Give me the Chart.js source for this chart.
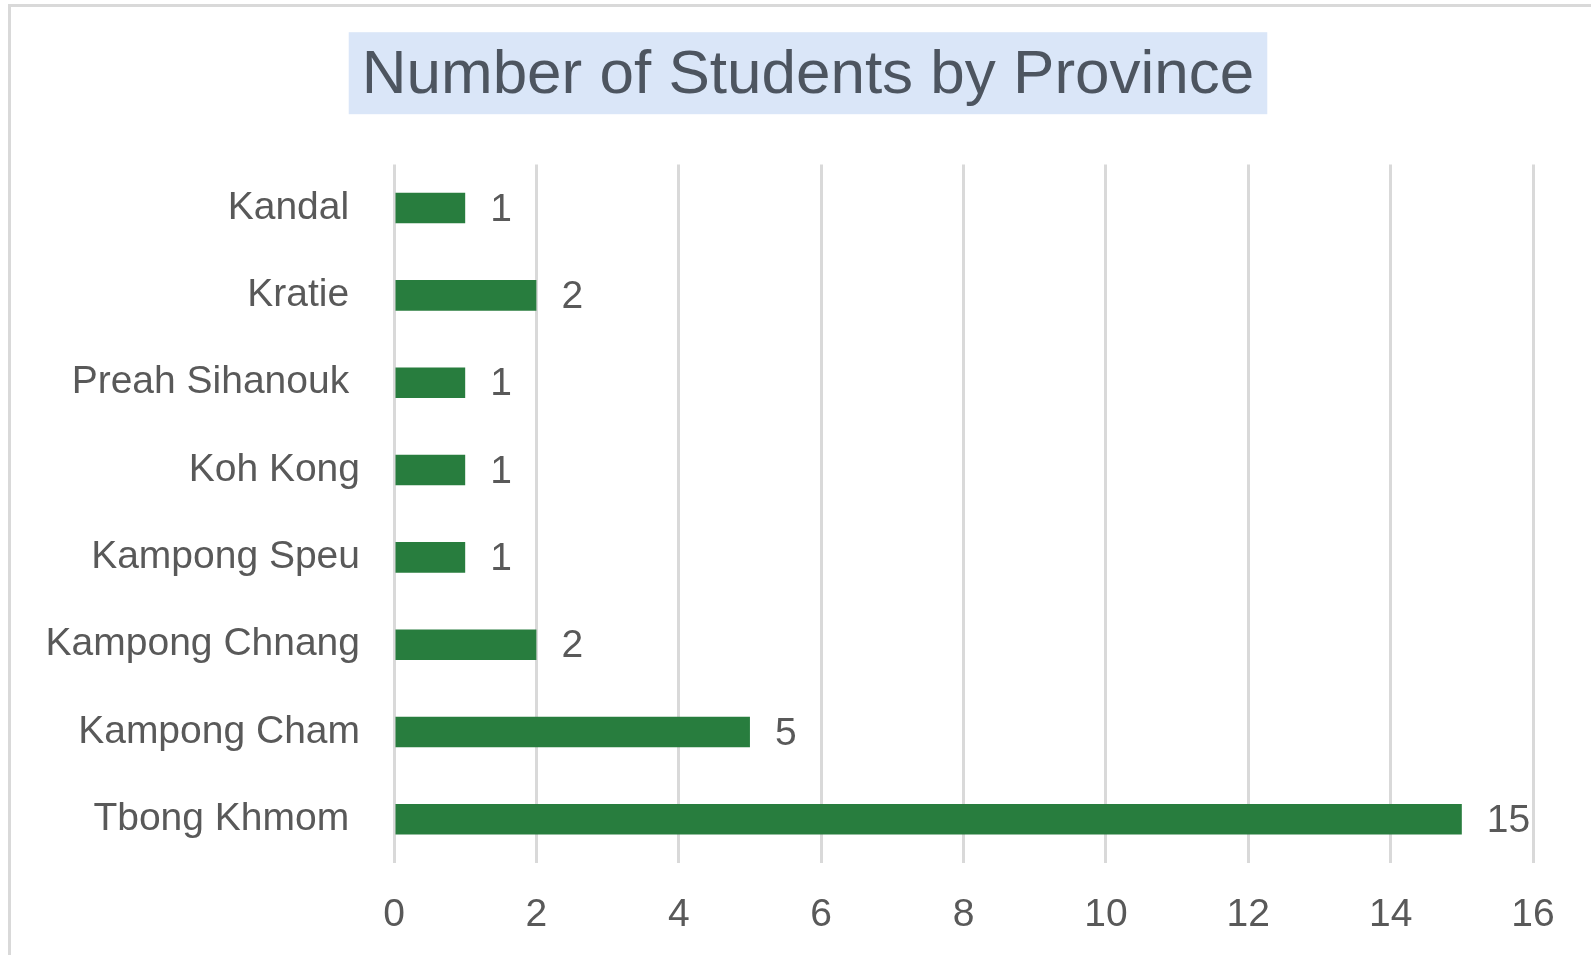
<!DOCTYPE html>
<html>
<head>
<meta charset="utf-8">
<script src="https://cdn.jsdelivr.net/npm/chart.js@4/dist/chart.umd.min.js"></script>
<style>
    html, body { margin: 0; padding: 0; background: #ffffff; overflow: hidden; }
    #frame {
        position: absolute; left: 8px; top: 4px;
        width: 2000px; height: 2000px;
        border-left: 3px solid #d9d9d9; border-top: 3px solid #d9d9d9;
    }
    #wrap { position: absolute; left: 0; top: 0; width: 1591px; height: 955px; }
</style>
</head>
<body>
<div id="frame"></div>
<div id="wrap"><canvas id="studentsChart"></canvas></div>
<script>
"use strict";

// values
const chartTitle = "Number of Students by Province";
const provinces = ["Kandal ", "Kratie ", "Preah Sihanouk ", "Koh Kong", "Kampong Speu", "Kampong Chnang", "Kampong Cham", "Tbong Khmom "];
const students = [1, 2, 1, 1, 1, 2, 5, 15];
const axisMin = 0;
const axisMax = 16;
const axisStep = 2;

const FONT = "'Liberation Sans', Arial, sans-serif";

// the title sits a bit right of the canvas centre in the original
const titleShift = {
    id: "titleShift",
    afterLayout(chart) {
        let tb = chart.titleBlock;
        if (!tb) return;
        tb.left += 29;
        tb.right += 29;
    }
};

// light blue box behind the title
const titleBox = {
    id: "titleBox",
    beforeDraw(chart) {
        let tb = chart.titleBlock;
        if (!tb) return;
        let ctx = chart.ctx;
        let opts = chart.options.plugins.title;
        ctx.save();
        ctx.font = `${opts.font.size}px ${FONT}`;
        let tw = ctx.measureText(opts.text).width;
        let cx = (tb.left + tb.right) / 2;
        let mid = tb.top + opts.padding.top + opts.font.size * 0.6;
        ctx.fillStyle = "#dae6f8";
        ctx.fillRect(cx - tw / 2 - 13, mid - 44, tw + 26, 82);
        ctx.restore();
    }
};

// value labels right of each bar
const valueLabels = {
    id: "valueLabels",
    afterDatasetsDraw(chart) {
        let ctx = chart.ctx;
        let meta = chart.getDatasetMeta(0);
        ctx.save();
        ctx.font = `39px ${FONT}`;
        ctx.fillStyle = "#595959";
        ctx.textAlign = "left";
        ctx.textBaseline = "middle";
        meta.data.forEach((bar, i) => {
            ctx.fillText(String(students[i]), bar.x + 25, bar.y + 2);
        });
        ctx.restore();
    }
};

new Chart(document.getElementById("studentsChart"), {
    type: "bar",
    data: {
        labels: provinces,
        datasets: [{
            label: "Students",
            data: students,
            backgroundColor: "#287d3e",
            borderWidth: 0,
            barPercentage: 0.35,
            categoryPercentage: 1
        }]
    },
    options: {
        indexAxis: "y",
        responsive: true,
        maintainAspectRatio: false,
        animation: false,
        layout: { padding: { left: 25, right: 58, top: 0, bottom: 20 } },
        plugins: {
            legend: { display: false },
            tooltip: { enabled: false },
            title: {
                display: true,
                text: chartTitle,
                color: "#4d5560",
                font: { family: FONT, size: 62, weight: "normal" },
                padding: { top: 39, bottom: 51 }
            }
        },
        scales: {
            x: {
                min: axisMin,
                max: axisMax,
                afterFit(scale) {
                    scale.height = 72;
                },
                ticks: {
                    stepSize: axisStep,
                    color: "#595959",
                    font: { family: FONT, size: 39 },
                    padding: 29
                },
                grid: { color: "#d9d9d9", lineWidth: 3, drawTicks: false },
                border: { display: false }
            },
            y: {
                afterFit(scale) {
                    scale.width = 369;
                },
                ticks: {
                    color: "#595959",
                    font: { family: FONT, size: 39 },
                    padding: 34
                },
                grid: { display: false, drawTicks: false },
                border: { display: false }
            }
        }
    },
    plugins: [titleShift, titleBox, valueLabels]
});
</script>
</body>
</html>
